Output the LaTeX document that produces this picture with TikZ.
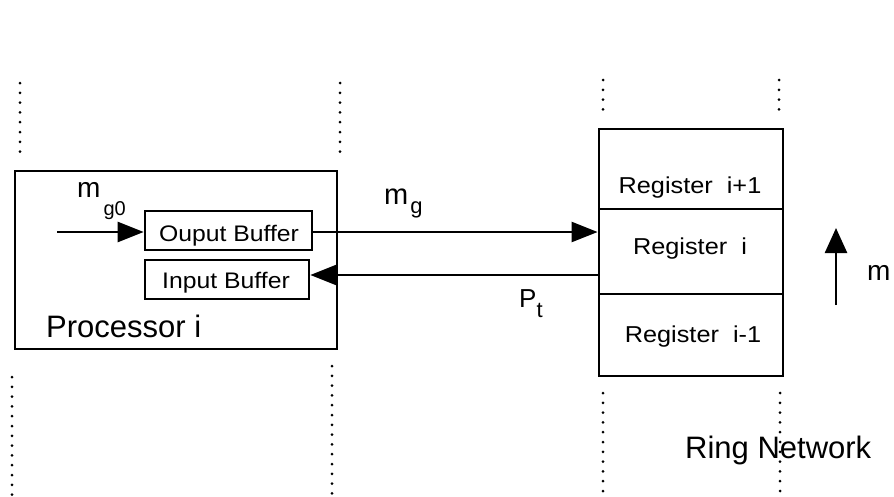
\documentclass[tikz,border=0pt]{standalone}
\usepackage{fontspec}
\setmainfont{Liberation Sans}
\usetikzlibrary{arrows.meta,calc}

\newcommand{\fs}[1]{\fontsize{#1}{#1}\selectfont}
\newcommand{\wide}[1]{\scalebox{1.1}[1]{#1}}

\tikzset{
  box/.style={draw, line width=2.6pt, rectangle, inner sep=0pt},
  cell/.style={draw, line width=2.8pt, rectangle, inner sep=0pt,
               minimum width=184pt},
  lbl/.style={inner sep=0pt, anchor=base},
  arr/.style={line width=2.5pt, -{Triangle[length=26pt, width=20pt]}},
  dotline/.style={line width=3pt, line cap=round,
                  dash pattern=on 0pt off 9.8pt},
}

\begin{document}
\begin{tikzpicture}[x=1pt, y=-1pt]
  \useasboundingbox (0,0) rectangle (894,496);

  % dotted boundaries of the processor column
  \draw[dotline] (20,83) -- (20,153);
  \draw[dotline] (12,377) -- (12,496);
  \draw[dotline] (340,83) -- (340,153);
  \draw[dotline] (332,366) -- (332,496);
  % dotted boundaries of the ring column
  \draw[dotline] (603,80) -- (603,112);
  \draw[dotline] (779,80) -- (779,112);
  \draw[dotline] (603,393) -- (603,496);
  \draw[dotline] (780,393) -- (780,496);

  % processor with its buffers
  \node[box, minimum width=322pt, minimum height=178pt] (proc) at (176,260) {};
  \node[box, minimum width=167pt, minimum height=39pt] (out) at (228.5,230.5) {};
  \node[box, minimum width=164pt, minimum height=39pt] (in) at (227,279.5) {};
  \node[lbl] (outtxt) at (229,241) {\fs{22.5}\wide{Ouput Buffer}};
  \node[lbl] (intxt) at (226,288) {\fs{22.5}\wide{Input Buffer}};
  \node[lbl, anchor=base west] (proctxt) at (46,337) {\fs{31}Processor i};

  % ring registers
  \node[cell, minimum height=80pt] (regup) at (691,169) {};
  \node[cell, minimum height=85pt] (regi) at (691,251.5) {};
  \node[cell, minimum height=82pt] (regdn) at (691,335) {};
  \node[lbl] (reguptxt) at (690,193) {\fs{23}\wide{Register\ \ i+1}};
  \node[lbl] (regitxt) at (690,254) {\fs{23}\wide{Register\ \ i}};
  \node[lbl] (regdntxt) at (693,342) {\fs{23}\wide{Register\ \ i-1}};
  \node[lbl, anchor=base west] (ring) at (685,458) {\fs{31}Ring Network};

  % generated messages entering the output buffer
  \coordinate (src) at (57,232);
  \draw[arr] (src) -- (out.west |- src);
  \node[lbl, anchor=base west] (mg0) at (77,197)
    {\fs{28}m\hspace{3pt}\raisebox{-18pt}{\fs{20}g0}};

  % output buffer to the ring register
  \draw[arr] ([yshift=-1.5pt]out.east) -- ([yshift=-1.5pt]out.east -| regi.west);
  \node[lbl, anchor=base west] (mg) at (384,204)
    {\fs{29}m\hspace{2pt}\raisebox{-9pt}{\fs{22}g}};

  % ring register back to the input buffer
  \draw[arr] ([yshift=4.5pt]in.east -| regi.west) -- ([yshift=4.5pt]in.east);
  \node[lbl, anchor=base west] (pt) at (519,307)
    {\fs{26}P\hspace{0pt}\raisebox{-10pt}{\fs{22}t}};

  % direction of ring movement
  \coordinate (mlow) at (836,305);
  \coordinate (mhigh) at (836,228);
  \draw[arr, -{Triangle[length=25pt, width=22pt]}] (mlow) -- (mhigh);
  \node[lbl, anchor=base west] (m) at (867,280) {\fs{28}m};
\end{tikzpicture}
\end{document}
